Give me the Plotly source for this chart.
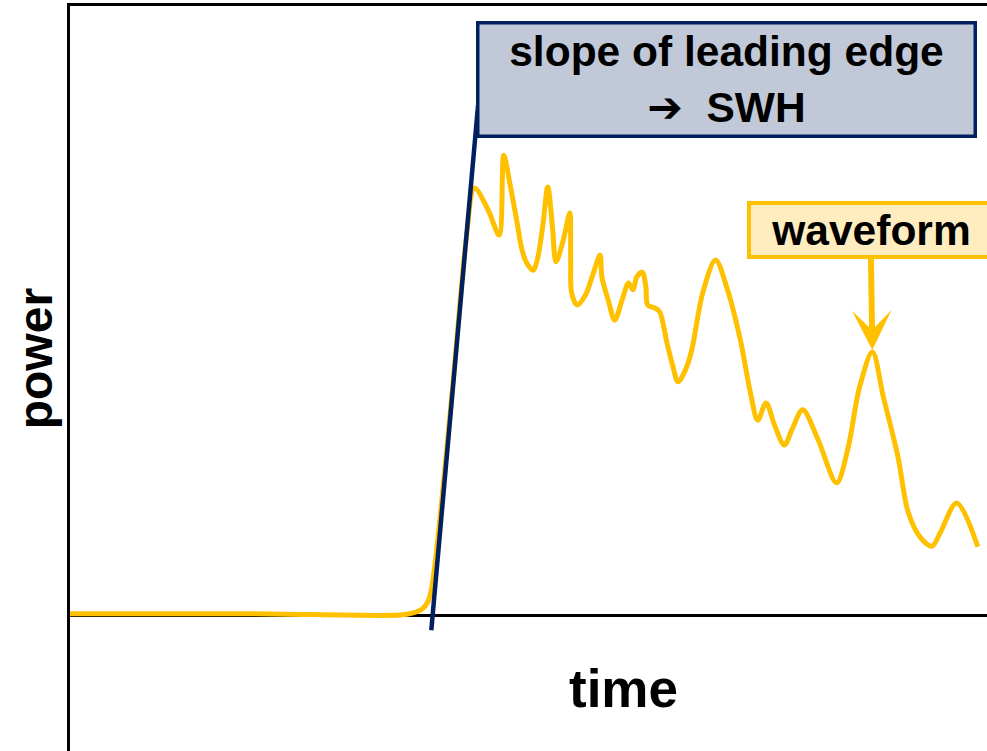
import plotly.graph_objects as go

# waveform (time and power in arbitrary units)
time = [0.0, 19.6, 36.0, 37.3, 38.4, 39.0, 39.4, 40.1, 41.8, 43.2, 44.1, 45.6,
        46.8, 47.3, 48.0, 48.7, 49.3, 49.8, 50.5, 51.0, 51.6, 52.1, 52.6, 53.0,
        53.8, 54.5, 54.6, 54.7, 55.3, 56.2, 57.0, 57.8, 58.0, 58.7, 59.4, 60.2,
        60.9, 61.4, 61.8, 62.4, 62.8, 63.0, 63.8, 64.3, 65.1, 65.7, 66.3, 67.1,
        67.8, 69.0, 70.4, 71.6, 73.1, 74.2, 75.0, 75.9, 76.9, 77.9, 78.8, 79.9,
        81.6, 83.6, 84.8, 86.1, 87.5, 88.7, 90.3, 91.4, 92.7, 94.0, 94.9, 96.7,
        99.0]
power = [0.2, 0.2, 0.0, 0.3, 1.0, 2.1, 4.1, 12.3, 38.6, 61.6, 70.1, 66.5,
         62.4, 75.5, 70.6, 64.9, 59.9, 57.8, 56.6, 58.6, 64.4, 70.3, 64.0, 58.0,
         61.6, 66.0, 58.3, 52.9, 50.9, 52.5, 55.8, 59.1, 55.5, 51.7, 48.4, 51.7,
         54.5, 53.4, 55.5, 56.3, 53.9, 50.9, 50.4, 49.8, 44.7, 41.1, 38.3, 40.2,
         43.5, 52.9, 58.3, 53.9, 45.2, 36.5, 32.0, 34.8, 30.9, 27.9, 30.7, 33.7,
         28.7, 21.7, 27.1, 37.4, 43.2, 35.8, 25.9, 16.9, 12.8, 11.3, 13.5, 18.4,
         11.2]

# tangent drawn along the leading edge
edge_time = [39.4, 44.5]
edge_power = [-2.5, 83.7]

peak = power.index(43.2)

YELLOW = "#FFC000"
NAVY = "#002060"
FONT = "Liberation Sans, Arial, DejaVu Sans, sans-serif"

fig = go.Figure()

fig.add_trace(go.Scatter(
    x=time, y=power,
    mode="lines",
    line=dict(color=YELLOW, width=5, shape="spline", smoothing=0.9),
    hoverinfo="skip",
))

fig.add_trace(go.Scatter(
    x=edge_time, y=edge_power,
    mode="lines",
    line=dict(color=NAVY, width=4.5),
    hoverinfo="skip",
))

fig.add_annotation(
    x=71.6, y=87.9, xref="x", yref="y",
    text="<b>slope of leading edge<br>➔  SWH</b>",
    showarrow=False,
    font=dict(family=FONT, size=42.5, color="black"),
    bgcolor="#C1C8D8",
    bordercolor=NAVY, borderwidth=3.5, borderpad=0,
    width=494, height=110,
    xanchor="center", yanchor="middle",
)

fig.add_annotation(
    x=time[peak], y=power[peak], xref="x", yref="y",
    ax=87.3, ay=63.2, axref="x", ayref="y",
    text="<b>waveform</b>",
    showarrow=True,
    arrowhead=3, arrowsize=1.1, arrowwidth=6, arrowcolor=YELLOW,
    standoff=2,
    font=dict(family=FONT, size=42.5, color="black"),
    bgcolor="#FFEDC0",
    bordercolor=YELLOW, borderwidth=4, borderpad=0,
    width=240, height=50,
)

fig.add_annotation(
    x=-0.038, y=0.526, xref="paper", yref="paper",
    text="<b>power</b>", textangle=-90,
    showarrow=False,
    font=dict(family=FONT, size=48, color="black"),
    xanchor="center", yanchor="middle",
)

fig.add_annotation(
    x=60.4, y=-12.0, xref="x", yref="y",
    text="<b>time</b>",
    showarrow=False,
    font=dict(family=FONT, size=53, color="black"),
    xanchor="center", yanchor="middle",
)

fig.update_layout(
    width=987,
    height=751,
    margin=dict(l=70, r=0, t=6, b=0),
    paper_bgcolor="white",
    plot_bgcolor="white",
    showlegend=False,
    xaxis=dict(
        range=[0, 100], side="top",
        showline=True, linecolor="black", linewidth=3,
        showgrid=False, zeroline=False, showticklabels=False, ticks="",
    ),
    yaxis=dict(
        range=[-22.33, 100],
        showline=True, linecolor="black", linewidth=3,
        showgrid=False, showticklabels=False, ticks="",
        zeroline=True, zerolinecolor="black", zerolinewidth=2.5,
    ),
)

# the page keeps a default body margin; drop it so the figure sits at 0,0
fig.write_html(
    "out.html",
    config={"displayModeBar": False},
    post_script="document.body.style.margin='0';",
)
